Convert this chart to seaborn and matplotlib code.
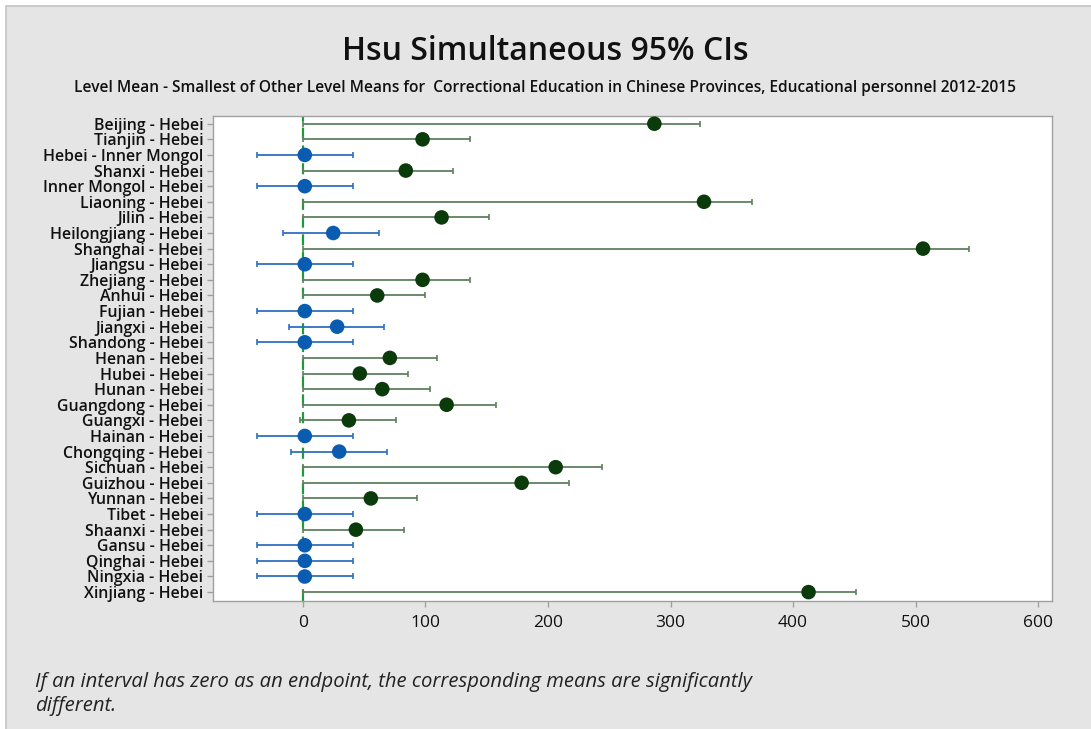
import numpy as np
import pandas as pd
import matplotlib
matplotlib.use("Agg")
import matplotlib.pyplot as plt
from matplotlib.patches import Rectangle
import seaborn as sns

labels = ["Beijing - Hebei", "Tianjin - Hebei", "Hebei - Inner Mongol", "Shanxi - Hebei",
          "Inner Mongol - Hebei", "Liaoning - Hebei", "Jilin - Hebei", "Heilongjiang - Hebei",
          "Shanghai - Hebei", "Jiangsu - Hebei", "Zhejiang - Hebei", "Anhui - Hebei",
          "Fujian - Hebei", "Jiangxi - Hebei", "Shandong - Hebei", "Henan - Hebei",
          "Hubei - Hebei", "Hunan - Hebei", "Guangdong - Hebei", "Guangxi - Hebei",
          "Hainan - Hebei", "Chongqing - Hebei", "Sichuan - Hebei", "Guizhou - Hebei",
          "Yunnan - Hebei", "Tibet - Hebei", "Shaanxi - Hebei", "Gansu - Hebei",
          "Qinghai - Hebei", "Ningxia - Hebei", "Xinjiang - Hebei"]
centers = [286.8, 97.7, 1.6, 84.0, 1.6, 327.3, 113.2, 24.8, 506.0, 1.6, 97.7, 60.7,
           1.6, 28.0, 1.6, 71.0, 46.5, 64.8, 117.3, 37.6, 1.6, 29.7, 206.3, 178.5,
           55.5, 1.6, 43.3, 1.6, 1.6, 1.6, 412.6]
lowers = [0, 0, -37.0, 0, -37.0, 0, 0, -16.0, 0, -37.0, 0, 0,
          -37.0, -11.2, -37.0, 0, 0, 0, 0, -2.4, -37.0, -9.8, 0, 0,
          0, -37.0, 0, -37.0, -37.0, -37.0, 0]
uppers = [324.0, 136.6, 40.8, 122.7, 40.8, 366.3, 152.1, 62.0, 543.7, 40.8, 136.6, 99.8,
          40.8, 66.4, 40.8, 109.7, 85.4, 104.0, 157.3, 76.2, 40.8, 68.3, 243.9, 217.4,
          93.3, 40.8, 82.2, 40.8, 40.8, 40.8, 451.6]
xticks = [0, 100, 200, 300, 400, 500, 600]

df = pd.DataFrame({"label": labels, "center": centers, "lower": lowers, "upper": uppers})
df["pos"] = np.arange(len(df))
df["group"] = np.where(df["lower"] < -5, "ns", "sig")

sns.set_theme(style="white")
plt.rcParams["font.family"] = ["Open Sans", "DejaVu Sans"]

BG = "#e5e5e5"
W, H = 1091, 729
fig = plt.figure(figsize=(W / 100, H / 100), dpi=100, facecolor="white")
fig.patches.append(Rectangle((6 / W, -0.02), 1.02, 1.02 - 6 / H, transform=fig.transFigure,
                             facecolor=BG, edgecolor="#c4c4c4", lw=1.2, zorder=-10))
ax = fig.add_axes([0.195, 0.176, 0.769, 0.665])
ax.set_facecolor("white")

pt_colors = {"sig": "#0b3a0b", "ns": "#0a5cb0"}
ln_colors = {"sig": "#5f805f", "ns": "#2e6fc0"}

ax.axvline(0, color="#1f9a3a", lw=1.6, ls=(0, (5, 3)), zorder=1)

for g in ["sig", "ns"]:
    sub = df[df["group"] == g]
    ax.errorbar(sub["center"], sub["pos"],
                xerr=[sub["center"] - sub["lower"], sub["upper"] - sub["center"]],
                fmt="none", ecolor=ln_colors[g], elinewidth=1.3, capsize=2.5,
                capthick=1.2, zorder=2)

sns.scatterplot(data=df, x="center", y="pos", hue="group", palette=pt_colors,
                s=110, edgecolor="none", legend=False, ax=ax, zorder=3)

ax.set_xlim(-73.5, 611)
ax.set_ylim(len(labels) - 0.45, -0.5)
ax.set_yticks(df["pos"])
ax.set_yticklabels(labels, fontsize=11.4, fontweight="semibold", color="#111111")
ax.set_xticks(xticks)
ax.set_xticklabels([str(t) for t in xticks], fontsize=12.5, color="#111111")
ax.set_xlabel("")
ax.set_ylabel("")
ax.tick_params(axis="both", which="both", length=4, width=1, color="#a0a0a0",
               direction="out", left=True, bottom=True, pad=3)
ax.tick_params(axis="x", pad=6)
for s in ax.spines.values():
    s.set_color("#a0a0a0")
    s.set_linewidth(1.0)

fig.text(0.5, 0.929, "Hsu Simultaneous 95% CIs", ha="center", va="center",
         fontsize=23, fontweight="semibold", color="#111111")
fig.text(0.5, 0.879,
         "Level Mean - Smallest of Other Level Means for  Correctional Education in Chinese Provinces, Educational personnel 2012-2015",
         ha="center", va="center", fontsize=11.2, fontweight="semibold", color="#111111")
fig.text(0.032, 0.048,
         "If an interval has zero as an endpoint, the corresponding means are significantly\ndifferent.",
         ha="left", va="center", fontsize=14.6, style="italic", color="#222222",
         linespacing=1.25)

fig.savefig("out.png", dpi=100, facecolor="white")
